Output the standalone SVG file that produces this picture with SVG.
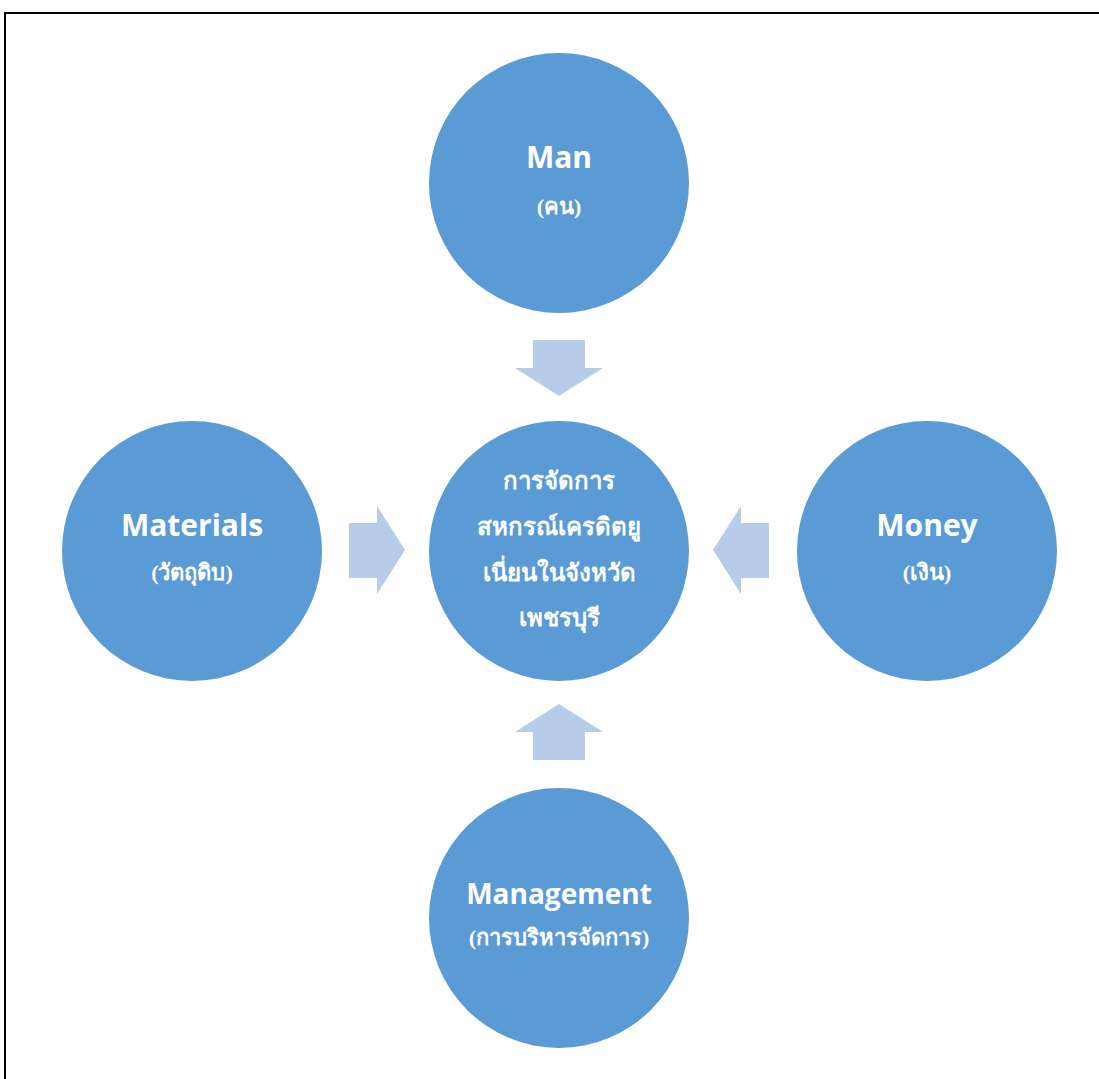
<svg xmlns="http://www.w3.org/2000/svg" width="1099" height="1079" viewBox="0 0 1099 1079">
<style>
.c{fill:#5B9BD5}
.a{fill:#B6CCE8}
.en{font-family:"Open Sans","Liberation Sans",sans-serif;font-weight:bold;font-size:30px;fill:#fff;text-anchor:middle}
.th{font-family:"Liberation Serif",serif;font-weight:bold;font-size:22px;fill:#fff;text-anchor:middle}
.thc{font-family:"Liberation Serif",serif;font-weight:bold;font-size:24px;fill:#fff;text-anchor:middle}
</style>
<rect width="1099" height="1079" fill="#fff"/>
<path d="M5,1079 V13 H1099" fill="none" stroke="#000" stroke-width="2"/>
<g id="connectors">
<polygon class="a" points="533,340 585,340 585,368 603,368 559,396 515,368 533,368"/>
<polygon class="a" points="533,760 585,760 585,732 603,732 559,704 515,732 533,732"/>
<polygon class="a" points="349,523 377,523 377,506 405,550 377,594 377,578 349,578"/>
<polygon class="a" points="769,523 741,523 741,506 713,550 741,594 741,578 769,578"/>
</g>
<g id="man">
<circle class="c" cx="559" cy="183" r="130"/>
<text class="en" x="559" y="168">Man</text>
<text class="th" x="559" y="214">(คน)</text>
</g>
<g id="center">
<circle class="c" cx="559" cy="551" r="130"/>
<text class="thc" x="559" y="489">การจัดการ</text>
<text class="thc" x="559" y="535">สหกรณ์เครดิตยู</text>
<text class="thc" x="559" y="581">เนี่ยนในจังหวัด</text>
<text class="thc" x="559" y="626">เพชรบุรี</text>
</g>
<g id="materials">
<circle class="c" cx="192" cy="551" r="130"/>
<text class="en" x="192" y="536">Materials</text>
<text class="th" x="192" y="580">(วัตถุดิบ)</text>
</g>
<g id="money">
<circle class="c" cx="927" cy="551" r="130"/>
<text class="en" x="927" y="536">Money</text>
<text class="th" x="927" y="580">(เงิน)</text>
</g>
<g id="management">
<circle class="c" cx="559" cy="918" r="130"/>
<text class="en" x="559" y="904" style="font-size:28px">Management</text>
<text class="th" x="559" y="945">(การบริหารจัดการ)</text>
</g>
</svg>
